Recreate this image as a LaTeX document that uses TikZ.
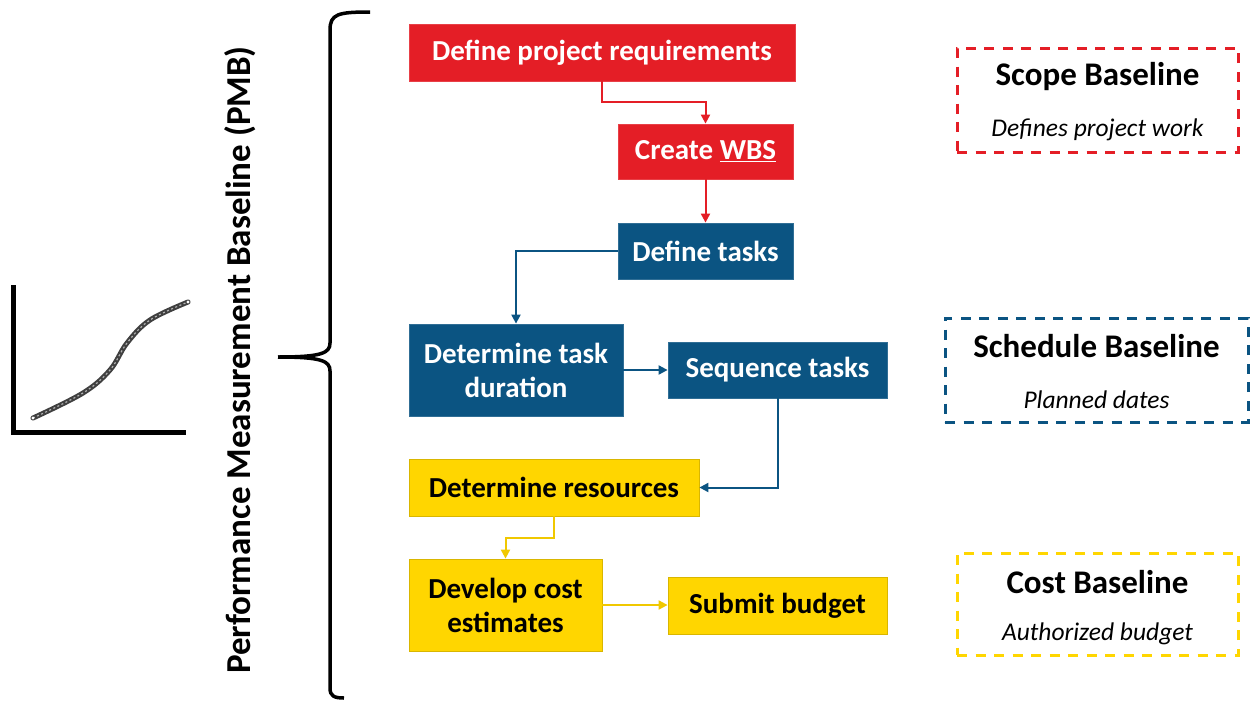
\documentclass[tikz,border=0pt]{standalone}
\usepackage{fontspec}
\setmainfont{Carlito}
\usetikzlibrary{arrows.meta}
\definecolor{pred}{RGB}{228,30,38}
\definecolor{pblue}{RGB}{11,84,130}
\definecolor{pyel}{RGB}{255,214,0}
\definecolor{pyelar}{RGB}{240,200,0}
\begin{document}
\begin{tikzpicture}[x=1pt,y=-1pt,
  boxbase/.style={rectangle, inner sep=0pt, align=center, font=\fontsize{29}{34}\selectfont\bfseries},
  redbox/.style={boxbase, fill=pred, draw=pred!85!white, line width=0.8pt, text=white},
  bluebox/.style={boxbase, fill=pblue, draw=pblue!85!white, line width=0.8pt, text=white},
  yelbox/.style={boxbase, fill=pyel, draw=pyel!85!black, line width=0.8pt, text=black},
  arr/.style={line width=2pt, -{Triangle[length=9pt,width=9pt]}},
  basebox/.style={rectangle, draw, line width=3pt, dash pattern=on 10pt off 8.5pt, inner sep=0pt},
  btitle/.style={font=\fontsize{33}{38}\selectfont\bfseries, inner sep=0pt},
  bsub/.style={font=\fontsize{25.5}{30}\selectfont\itshape, inner sep=0pt}
]
\useasboundingbox (0,0) rectangle (1251,702);

% graph icon
\draw[line width=5pt, line cap=butt] (13,285) -- (13,432) -- (186,432);
\draw[line width=5pt, gray!50!black, line cap=round] plot[smooth, tension=0.6] coordinates {(33,418) (83,393) (110,370) (127,343) (150,320) (188,302)};
\draw[line width=1.2pt, gray!60, dash pattern=on 2pt off 2.5pt] plot[smooth, tension=0.6] coordinates {(33,418) (83,393) (110,370) (127,343) (150,320) (188,302)};
\fill[white] (33,418) circle (1.6pt) (188,302) circle (1.6pt);

% brace
\draw[line width=3.5pt] (370,12) .. controls (338,12) and (330,14) .. (330,30) -- (330,343) .. controls (330,353) and (322,357) .. (278,357);
\draw[line width=3.5pt] (278,357) .. controls (322,357) and (330,361) .. (330,371) -- (330,688) .. controls (330,696) and (334,698) .. (344,698);

% rotated label
\node[rotate=90, font=\fontsize{35}{40}\selectfont\bfseries, inner sep=0pt] (pmb) at (240,360) {Performance Measurement Baseline (PMB)};

% process boxes
\node[redbox, minimum width=386pt, minimum height=57pt] (req) at (602,52.5) {Define project requirements};
\node[redbox, minimum width=175pt, minimum height=55pt] (wbs) at (705.5,151.5) {Create \underline{WBS}};
\node[bluebox, minimum width=175pt, minimum height=56pt] (tasks) at (705.5,251) {Define tasks};
\node[bluebox, minimum width=214pt, minimum height=92pt] (dur) at (516,370) {Determine task\\duration};
\node[bluebox, minimum width=219pt, minimum height=56pt] (seq) at (777.5,370) {Sequence tasks};
\node[yelbox, minimum width=290pt, minimum height=57pt] (res) at (554,487.5) {Determine resources};
\node[yelbox, minimum width=193pt, minimum height=92pt] (cost) at (505.5,605) {Develop cost\\estimates};
\node[yelbox, minimum width=219pt, minimum height=57pt] (sub) at (777.5,605.5) {Submit budget};

% connectors
\draw[arr, pred] (req.south) -- ++(0,21) -| (wbs.north);
\draw[arr, pred] (wbs.south) -- (tasks.north);
\draw[arr, pblue] (tasks.west) -| (dur.north);
\draw[arr, pblue] (dur.east) -- (seq.west);
\draw[arr, pblue] (seq.south) |- (res.east);
\draw[arr, pyelar] (res.south) -- ++(0,22) -| (cost.north);
\draw[arr, pyelar] (cost.east) -- (cost.east -| sub.west);

% baseline boxes
\node[basebox, draw=pred, minimum width=281pt, minimum height=104pt] (scope) at (1097.5,100) {};
\node[btitle] (scopet) at (1097.5,77) {Scope Baseline};
\node[bsub] (scopes) at (1097.5,130) {Defines project work};

\node[basebox, draw=pblue, minimum width=303pt, minimum height=104pt] (sched) at (1096.5,370) {};
\node[btitle] (schedt) at (1096.5,346) {Schedule Baseline};
\node[bsub] (scheds) at (1096.5,400) {Planned dates};

\node[basebox, draw=pyel, minimum width=281pt, minimum height=102pt] (costb) at (1097.5,604) {};
\node[btitle] (costbt) at (1097.5,582) {Cost Baseline};
\node[bsub] (costbs) at (1097.5,634) {Authorized budget};
\end{tikzpicture}
\end{document}
